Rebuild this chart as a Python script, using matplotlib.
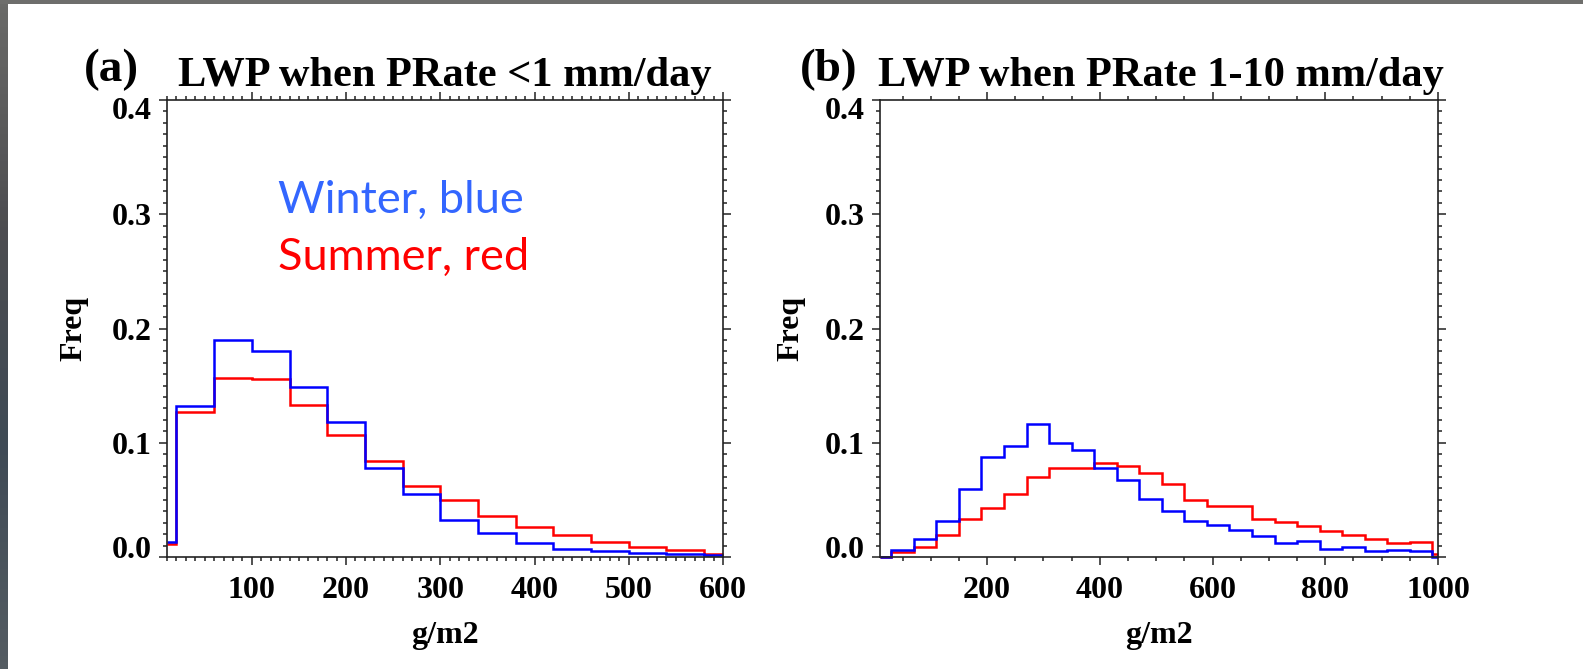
import numpy as np
import matplotlib
matplotlib.use("Agg")
import matplotlib.pyplot as plt
from matplotlib.ticker import MultipleLocator, FixedLocator
from matplotlib.transforms import ScaledTranslation
from matplotlib.colors import LinearSegmentedColormap

# ---- data ----
edges_a = [10, 20, 60, 100, 140, 180, 220, 260, 300, 340, 380, 420, 460, 500, 540, 580, 600]
winter_a = [0.013, 0.132, 0.190, 0.180, 0.149, 0.118, 0.078, 0.055, 0.032, 0.021,
            0.0125, 0.007, 0.0055, 0.0034, 0.0025, 0.0014]
summer_a = [0.011, 0.127, 0.157, 0.156, 0.133, 0.107, 0.084, 0.062, 0.050, 0.036,
            0.026, 0.019, 0.013, 0.009, 0.0064, 0.0023]

edges_b = [10, 30, 70, 110, 150, 190, 230, 270, 310, 350, 390, 430, 470, 510, 550,
           590, 630, 670, 710, 750, 790, 830, 870, 910, 950, 990, 1000]
winter_b = [0.0, 0.0064, 0.0154, 0.0318, 0.0592, 0.0871, 0.097, 0.1163, 0.100, 0.0933,
            0.0781, 0.0673, 0.051, 0.0399, 0.0311, 0.0283, 0.0239, 0.0183, 0.0119, 0.0139,
            0.0069, 0.0087, 0.0052, 0.0058, 0.0055, 0.0]
summer_b = [0.0, 0.0046, 0.009, 0.0189, 0.0332, 0.0431, 0.0548, 0.0696, 0.0775, 0.0775,
            0.0825, 0.0795, 0.0731, 0.0638, 0.0498, 0.0449, 0.0449, 0.0335, 0.0305, 0.0268,
            0.023, 0.0189, 0.0154, 0.0125, 0.013, 0.0023]

xticks_a = [100, 200, 300, 400, 500, 600]
xticks_b = [200, 400, 600, 800, 1000]
yticks = [0.0, 0.1, 0.2, 0.3, 0.4]

tags = ["(a)", "(b)"]
titles = ["LWP when PRate <1 mm/day", "LWP when PRate 1-10 mm/day"]

W, H = 1583, 669
serif = "Liberation Serif"
lab_size = 23

fig = plt.figure(figsize=(W / 100, H / 100), dpi=100)
fig.patch.set_facecolor("white")

# grey slide border (left and top)
strip = fig.add_axes([0, 0, 8 / W, 1])
grad = np.linspace(0, 1, 100).reshape(-1, 1)
cm = LinearSegmentedColormap.from_list("edge", ["#6a6a68", "#4d4d50", "#3f4a55", "#545c62"])
strip.imshow(grad, aspect="auto", cmap=cm, extent=[0, 1, 0, 1])
strip.axis("off")
top = fig.add_axes([0, 1 - 4 / H, 1, 4 / H])
top.set_facecolor("#6e6e6c")
top.set_xticks([])
top.set_yticks([])
for s in top.spines.values():
    s.set_visible(False)

ax_a = fig.add_axes([167 / W, 112 / H, 556 / W, 457 / H])
ax_b = fig.add_axes([880 / W, 112 / H, 558 / W, 457 / H])

panels = [
    (ax_a, edges_a, winter_a, summer_a, xticks_a, (10, 600), 10),
    (ax_b, edges_b, winter_b, summer_b, xticks_b, (10, 1000), 50),
]

for ax, edges, win, summ, xt, xl, xminor in panels:
    ax.stairs(summ, edges, baseline=None, color="red", lw=1.8, clip_on=False)
    ax.stairs(win, edges, baseline=None, color="blue", lw=1.8, clip_on=False)
    ax.set_xlim(*xl)
    ax.set_ylim(0, 0.4)
    ax.xaxis.set_major_locator(FixedLocator(xt))
    ax.xaxis.set_minor_locator(MultipleLocator(xminor))
    ax.yaxis.set_major_locator(FixedLocator(yticks))
    ax.yaxis.set_minor_locator(MultipleLocator(0.01))
    ax.set_xticklabels([str(v) for v in xt], fontfamily=serif, fontweight="bold", fontsize=lab_size)
    ax.set_yticklabels(["%.1f" % v for v in yticks], fontfamily=serif, fontweight="bold", fontsize=lab_size)
    ax.tick_params(which="both", direction="out", top=True, right=True, width=1.1, color="#222222")
    ax.tick_params(which="major", length=5.8)
    ax.tick_params(which="minor", length=3.0)
    ax.tick_params(axis="x", which="major", pad=8)
    ax.tick_params(axis="y", which="major", pad=5)
    for s in ax.spines.values():
        s.set_linewidth(1.2)
        s.set_color("#222222")
    ax.set_ylabel("Freq", fontfamily=serif, fontweight="bold", fontsize=lab_size)
    ax.set_xlabel("g/m2", fontfamily=serif, fontweight="bold", fontsize=lab_size)
    ax.xaxis.set_label_coords(0.5, -0.14)

    # NCL-style nudging of the end labels
    labs = ax.get_yticklabels()
    labs[0].set_transform(labs[0].get_transform() + ScaledTranslation(0, 10 / 100, fig.dpi_scale_trans))
    labs[-1].set_transform(labs[-1].get_transform() + ScaledTranslation(0, -8 / 100, fig.dpi_scale_trans))

ax_a.yaxis.set_label_coords(-0.142, 0.5)
ax_b.yaxis.set_label_coords(-0.134, 0.5)

# titles
fig.text(84 / W, 1 - 81 / H, tags[0], fontfamily=serif, fontweight="bold", fontsize=34, ha="left", va="baseline")
fig.text(445 / W, 1 - 86 / H, titles[0], fontfamily=serif, fontweight="bold", fontsize=30.5, ha="center", va="baseline")
fig.text(800 / W, 1 - 81 / H, tags[1], fontfamily=serif, fontweight="bold", fontsize=34, ha="left", va="baseline")
fig.text(1161 / W, 1 - 86 / H, titles[1], fontfamily=serif, fontweight="bold", fontsize=30.5, ha="center", va="baseline")

# season key
ax_a.text(0.2, 0.753, "Winter, blue", transform=ax_a.transAxes, color="#3366ff",
          fontfamily="Lato", fontsize=32.5, ha="left", va="baseline")
ax_a.text(0.2, 0.628, "Summer, red", transform=ax_a.transAxes, color="red",
          fontfamily="Lato", fontsize=32.5, ha="left", va="baseline")

fig.savefig("out.png", dpi=100, facecolor=fig.get_facecolor())
